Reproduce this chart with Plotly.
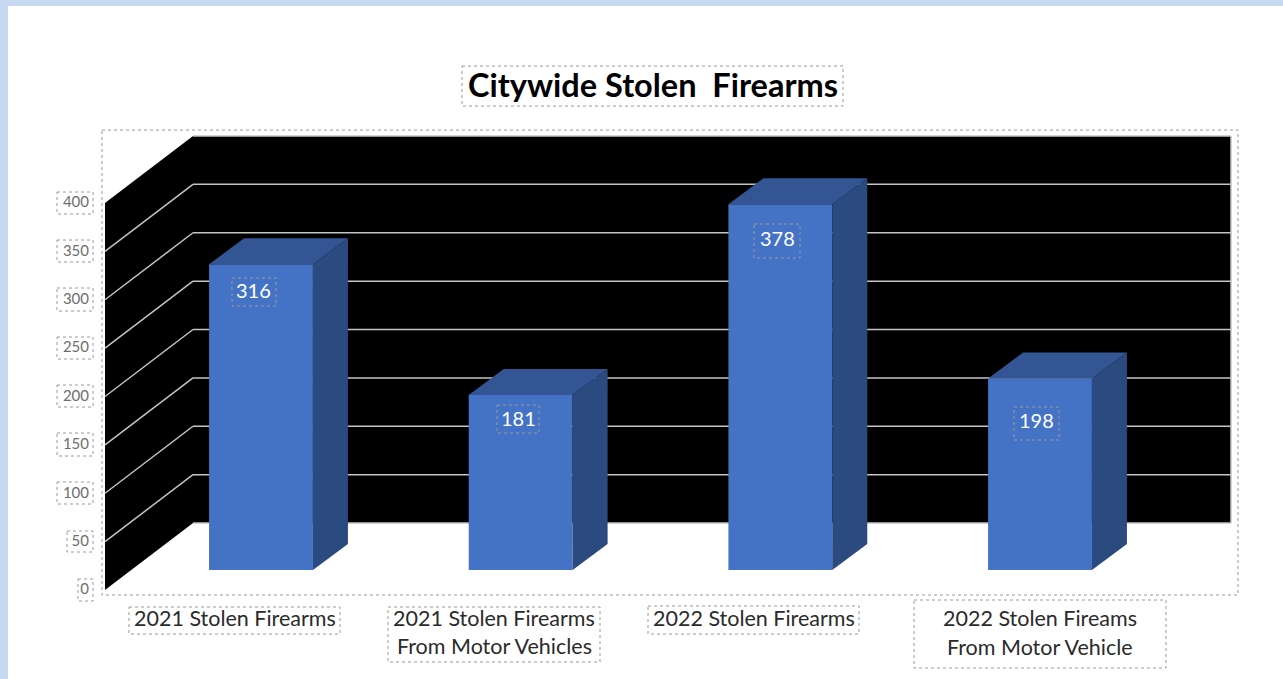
import plotly.graph_objects as go

# Chart data
categories = [
    "2021 Stolen Firearms",
    "2021 Stolen Firearms<br>From Motor Vehicles",
    "2022 Stolen Firearms",
    "2022 Stolen Fireams<br>From Motor Vehicle",
]
values = [316, 181, 378, 198]
tick_values = [0, 50, 100, 150, 200, 250, 300, 350, 400]
title_text = "Citywide Stolen\u00a0 Firearms"

# Page and scale set-up
W, H = 1283, 679
CAT_PX, CAT0_PX = 259.67, 261.0   # pixels per category, centre of first category
UNIT_PX = 0.9675                  # pixels per value unit
BASE_PX = 570.0                   # pixel row of value 0 on the bar plane
TICK_BASE_PX = 589.0              # pixel row of the value-axis zero label

BAR_W = 0.4
BAR_DX = 35 / CAT_PX              # bar depth projected onto the category axis
BAR_DY = 26 / UNIT_PX             # bar depth projected onto the value axis

WALL_FRONT_X = (105 - CAT0_PX) / CAT_PX
WALL_BACK_X = (193 - CAT0_PX) / CAT_PX
WALL_RIGHT_X = (1231 - CAT0_PX) / CAT_PX
WALL_FRONT_DY = (BASE_PX - 590) / UNIT_PX
WALL_BACK_DY = (BASE_PX - 523) / UNIT_PX

FONT = "Lato, Carlito, Calibri, sans-serif"
FRONT, TOP, SIDE = "#4472C4", "#335593", "#2B4A80"
GRID = "#C4C4C4"
DOTS = "#9A9A9A"
PAGE = "#C6D9F1"


def px(x):
    return x / W


def py(y):
    return 1 - y / H


def dotted_box(x0, y0, x1, y1):
    return dict(type="rect", xref="paper", yref="paper", layer="above",
                x0=px(x0), x1=px(x1), y0=py(y0), y1=py(y1),
                line=dict(color=DOTS, width=1, dash="dot"), fillcolor="rgba(0,0,0,0)")


def caption(text, x, y, size, color, weight="normal"):
    return dict(text=text, xref="paper", yref="paper", x=px(x), y=py(y),
                xanchor="center", yanchor="middle", showarrow=False,
                font=dict(family=FONT, size=size, color=color, weight=weight))


def path(points):
    return "M" + " L".join(f"{x},{y}" for x, y in points) + " Z"


fig = go.Figure()

# Front faces of the columns
fig.add_trace(go.Bar(x=list(range(len(values))), y=values, width=BAR_W,
                     marker=dict(color=FRONT, line=dict(width=0)),
                     hoverinfo="y", showlegend=False))

# Top and side faces, projected from each value
for i, v in enumerate(values):
    l, r = i - BAR_W / 2, i + BAR_W / 2
    fig.add_trace(go.Scatter(
        x=[l, r, r + BAR_DX, l + BAR_DX, l], y=[v, v, v + BAR_DY, v + BAR_DY, v],
        fill="toself", fillcolor=TOP, mode="lines", line=dict(width=0),
        hoverinfo="skip", showlegend=False))
    fig.add_trace(go.Scatter(
        x=[r, r + BAR_DX, r + BAR_DX, r, r], y=[0, BAR_DY, v + BAR_DY, v, 0],
        fill="toself", fillcolor=SIDE, mode="lines", line=dict(width=0),
        hoverinfo="skip", showlegend=False))

# Invisible trace that keeps the value axis attached to the plot
fig.add_trace(go.Scatter(x=[WALL_FRONT_X] * len(tick_values), y=tick_values, yaxis="y2",
                         mode="lines", line=dict(color="rgba(0,0,0,0)", width=0),
                         hoverinfo="skip", showlegend=False))

top = tick_values[-1]
shapes = [
    # Page edge strips
    dict(type="rect", xref="paper", yref="paper", layer="below", x0=0, x1=px(8), y0=0, y1=1,
         fillcolor=PAGE, line=dict(width=0)),
    dict(type="rect", xref="paper", yref="paper", layer="below", x0=0, x1=1, y0=py(6), y1=1,
         fillcolor=PAGE, line=dict(width=0)),
    # Back wall
    dict(type="path", xref="x", yref="y", layer="below", fillcolor="#000000", line=dict(width=0),
         path=path([(WALL_BACK_X, WALL_BACK_DY), (WALL_RIGHT_X, WALL_BACK_DY),
                    (WALL_RIGHT_X, WALL_BACK_DY + top), (WALL_BACK_X, WALL_BACK_DY + top)])),
    # Side wall
    dict(type="path", xref="x", yref="y", layer="below", fillcolor="#000000", line=dict(width=0),
         path=path([(WALL_FRONT_X, WALL_FRONT_DY), (WALL_BACK_X, WALL_BACK_DY),
                    (WALL_BACK_X, WALL_BACK_DY + top), (WALL_FRONT_X, WALL_FRONT_DY + top)])),
    # Right edge of the back wall
    dict(type="line", xref="x", yref="y", layer="below", x0=WALL_RIGHT_X, x1=WALL_RIGHT_X,
         y0=WALL_BACK_DY, y1=WALL_BACK_DY + top, line=dict(color=GRID, width=1.5)),
]

# Gridlines run along the side wall and across the back wall
for t in tick_values:
    if 0 < t < top:
        shapes.append(dict(type="line", xref="x", yref="y", layer="below",
                           x0=WALL_FRONT_X, x1=WALL_BACK_X,
                           y0=t + WALL_FRONT_DY, y1=t + WALL_BACK_DY,
                           line=dict(color=GRID, width=1.5)))
    shapes.append(dict(type="line", xref="x", yref="y", layer="below",
                       x0=WALL_BACK_X, x1=WALL_RIGHT_X,
                       y0=t + WALL_BACK_DY, y1=t + WALL_BACK_DY,
                       line=dict(color=GRID, width=1.5)))

# Dotted frames around the plot, title and text elements
shapes += [dotted_box(102, 130, 1238, 595), dotted_box(462, 66, 843, 106)]
tick_boxes = [(78, 579, 93, 601), (67, 531, 93, 552), (57, 482, 93, 504), (57, 433, 93, 456),
              (57, 385, 93, 407), (57, 337, 93, 359), (57, 288, 93, 311), (57, 240, 93, 262),
              (57, 192, 93, 214)]
value_boxes = [(232, 278, 276, 306), (497, 405, 539, 433), (754, 224, 800, 258), (1014, 407, 1059, 440)]
category_boxes = [(129, 607, 340, 634), (388, 607, 600, 662), (648, 606, 859, 634), (914, 600, 1166, 668)]
for b in tick_boxes + value_boxes + category_boxes:
    shapes.append(dotted_box(*b))

annotations = [caption(title_text, 653, 84, 32.5, "#000000", "bold")]

# Category captions, one annotation per line
caption_x = [235, 494, 753.5, 1039.5]
caption_y = [[618], [618, 646], [618], [618, 647]]
for label, cx, rows in zip(categories, caption_x, caption_y):
    for line, cy in zip(label.split("<br>"), rows):
        annotations.append(caption(line, cx, cy, 21.5, "#2B2B2B"))

# Value captions on the columns
value_xy = [(253, 290), (518, 418), (777, 238), (1036, 420)]
for v, (vx, vy) in zip(values, value_xy):
    annotations.append(caption(str(v), vx, vy, 20, "#FFFFFF"))

fig.update_layout(
    width=W, height=H, autosize=False,
    margin=dict(l=0, r=0, t=0, b=0, pad=0),
    paper_bgcolor="#FFFFFF", plot_bgcolor="rgba(0,0,0,0)",
    showlegend=False, shapes=shapes, annotations=annotations,
    xaxis=dict(range=[(0 - CAT0_PX) / CAT_PX, (W - CAT0_PX) / CAT_PX], domain=[0, 1],
               visible=False, fixedrange=True),
    yaxis=dict(range=[(BASE_PX - H) / UNIT_PX, BASE_PX / UNIT_PX], domain=[0, 1],
               visible=False, fixedrange=True),
    yaxis2=dict(range=[(TICK_BASE_PX - H) / UNIT_PX, TICK_BASE_PX / UNIT_PX], domain=[0, 1],
                overlaying="y", anchor="free", position=px(89), side="left",
                tickmode="array", tickvals=tick_values, ticks="", showgrid=False,
                showline=False, zeroline=False, fixedrange=True,
                tickfont=dict(family=FONT, size=15, color="#6E6E6E")),
)

fig.write_html("out.html", config=dict(displayModeBar=False))
